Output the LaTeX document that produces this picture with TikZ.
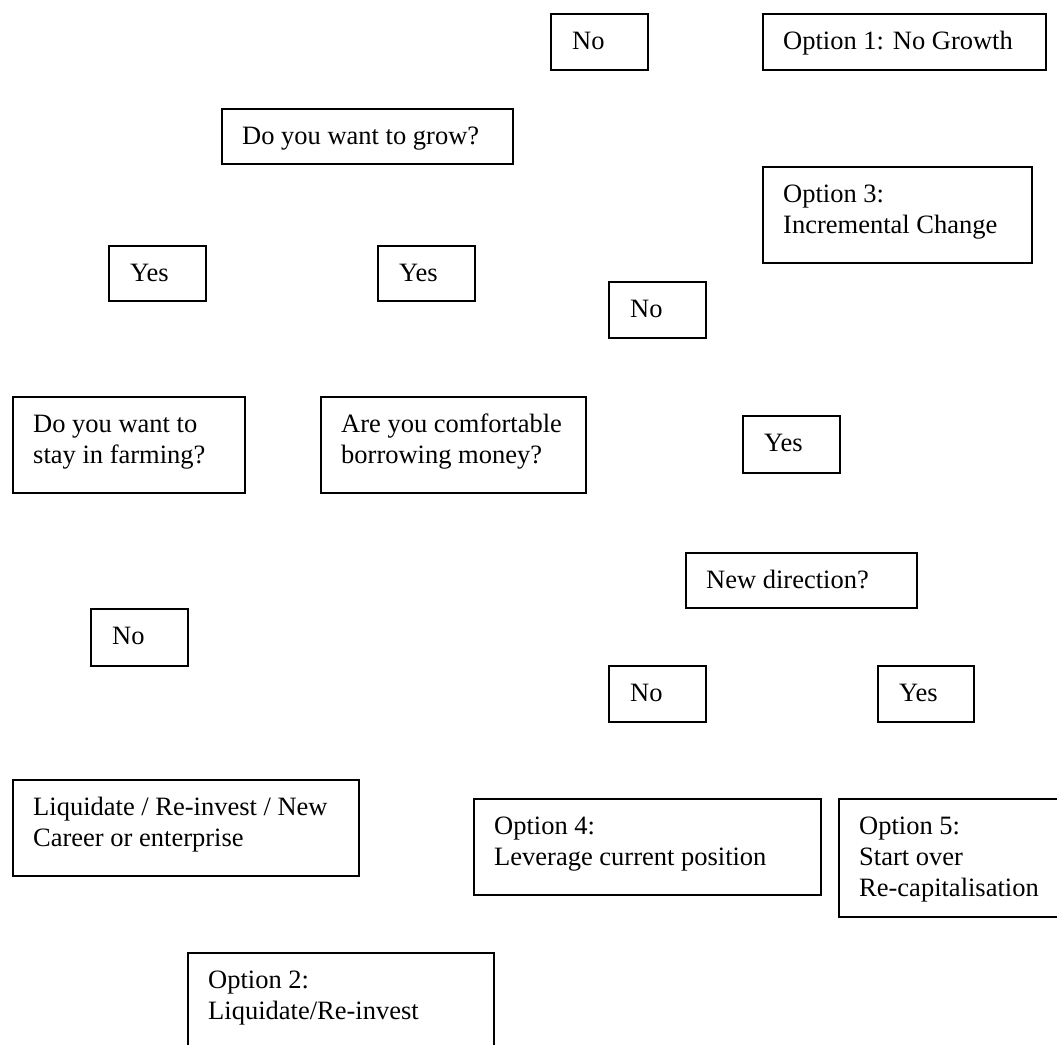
\documentclass[tikz,border=0pt]{standalone}
\usepackage{fontspec}
\setmainfont{Liberation Serif}
\begin{document}
\begin{tikzpicture}[x=1pt,y=-1pt,
  box/.style={draw, line width=1.6pt, anchor=north west, inner sep=0pt},
  lbl/.style={anchor=base west, inner sep=0pt, font=\fontsize{26.5pt}{31pt}\selectfont}]
\useasboundingbox (0,0) rectangle (1057,1044);
\clip (0,0) rectangle (1057,1044);
% boxes
\node[box, minimum width=97pt,  minimum height=56pt]  (noA)    at (550,13)  {};
\node[box, minimum width=283pt, minimum height=56pt]  (opt1)   at (762,13)  {};
\node[box, minimum width=291pt, minimum height=55pt]  (grow)   at (221,108) {};
\node[box, minimum width=269pt, minimum height=96pt]  (opt3)   at (762,166) {};
\node[box, minimum width=97pt,  minimum height=55pt]  (yesL)   at (108,245) {};
\node[box, minimum width=97pt,  minimum height=55pt]  (yesM)   at (377,245) {};
\node[box, minimum width=97pt,  minimum height=56pt]  (noM)    at (608,281) {};
\node[box, minimum width=232pt, minimum height=96pt]  (farm)   at (12,396)  {};
\node[box, minimum width=265pt, minimum height=96pt]  (borrow) at (320,396) {};
\node[box, minimum width=97pt,  minimum height=57pt]  (yesR)   at (742,415) {};
\node[box, minimum width=231pt, minimum height=55pt]  (newdir) at (685,552) {};
\node[box, minimum width=97pt,  minimum height=57pt]  (noL)    at (90,608)  {};
\node[box, minimum width=97pt,  minimum height=56pt]  (noLow)  at (608,665) {};
\node[box, minimum width=96pt,  minimum height=56pt]  (yesLow) at (877,665) {};
\node[box, minimum width=346pt, minimum height=96pt]  (liq)    at (12,779)  {};
\node[box, minimum width=347pt, minimum height=96pt]  (opt4)   at (473,798) {};
\node[box, minimum width=232pt, minimum height=118pt] (opt5)   at (838,798) {};
\node[box, minimum width=306pt, minimum height=108pt] (opt2)   at (187,952) {};
% texts
\node[lbl] (noAt)    at ([xshift=22pt,yshift=-36pt]noA.north west) {No};
\node[lbl] (opt1t)   at ([xshift=21pt,yshift=-36pt]opt1.north west) {Option 1: No Growth};
\node[lbl] (growt)   at ([xshift=21pt,yshift=-36pt]grow.north west) {Do you want to grow?};
\node[lbl] (opt3a)   at ([xshift=21pt,yshift=-36pt]opt3.north west) {Option 3:};
\node[lbl] (opt3b)   at ([xshift=21pt,yshift=-67pt]opt3.north west) {Incremental Change};
\node[lbl] (yesLt)   at ([xshift=22pt,yshift=-36pt]yesL.north west) {Yes};
\node[lbl] (yesMt)   at ([xshift=22pt,yshift=-36pt]yesM.north west) {Yes};
\node[lbl] (noMt)    at ([xshift=22pt,yshift=-36pt]noM.north west) {No};
\node[lbl] (farma)   at ([xshift=21pt,yshift=-36pt]farm.north west) {Do you want to};
\node[lbl] (farmb)   at ([xshift=21pt,yshift=-67pt]farm.north west) {stay in farming?};
\node[lbl] (borra)   at ([xshift=21pt,yshift=-36pt]borrow.north west) {Are you comfortable};
\node[lbl] (borrb)   at ([xshift=21pt,yshift=-67pt]borrow.north west) {borrowing money?};
\node[lbl] (yesRt)   at ([xshift=22pt,yshift=-36pt]yesR.north west) {Yes};
\node[lbl] (newdirt) at ([xshift=21pt,yshift=-36pt]newdir.north west) {New direction?};
\node[lbl] (noLt)    at ([xshift=22pt,yshift=-36pt]noL.north west) {No};
\node[lbl] (noLowt)  at ([xshift=22pt,yshift=-36pt]noLow.north west) {No};
\node[lbl] (yesLowt) at ([xshift=22pt,yshift=-36pt]yesLow.north west) {Yes};
\node[lbl] (liqa)    at ([xshift=21pt,yshift=-36pt]liq.north west) {Liquidate / Re-invest / New};
\node[lbl] (liqb)    at ([xshift=21pt,yshift=-67pt]liq.north west) {Career or enterprise};
\node[lbl] (opt4a)   at ([xshift=21pt,yshift=-36pt]opt4.north west) {Option 4:};
\node[lbl] (opt4b)   at ([xshift=21pt,yshift=-67pt]opt4.north west) {Leverage current position};
\node[lbl] (opt5a)   at ([xshift=21pt,yshift=-36pt]opt5.north west) {Option 5:};
\node[lbl] (opt5b)   at ([xshift=21pt,yshift=-67pt]opt5.north west) {Start over};
\node[lbl] (opt5c)   at ([xshift=21pt,yshift=-98pt]opt5.north west) {Re-capitalisation};
\node[lbl] (opt2a)   at ([xshift=21pt,yshift=-36pt]opt2.north west) {Option 2:};
\node[lbl] (opt2b)   at ([xshift=21pt,yshift=-67pt]opt2.north west) {Liquidate/Re-invest};
\end{tikzpicture}
\end{document}
